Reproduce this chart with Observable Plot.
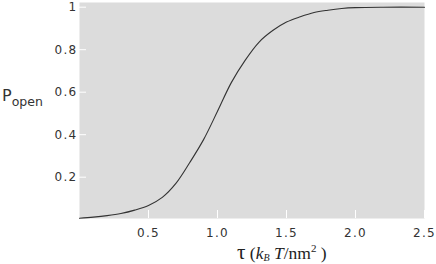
<!DOCTYPE html>
<html>
<head>
<meta charset="utf-8">
<script src="https://cdn.jsdelivr.net/npm/d3@7"></script>
<script src="https://cdn.jsdelivr.net/npm/@observablehq/plot@0.6"></script>
<style>
  html, body { margin: 0; padding: 0; background: #fff; }
  #chart svg { display: block; }
</style>
</head>
<body>
<div id="chart"></div>
<script>
const tau   = [0, 0.1, 0.2, 0.3, 0.4, 0.5, 0.6, 0.7, 0.8, 0.9, 1.0, 1.1, 1.2, 1.3, 1.4, 1.5, 1.6, 1.7, 1.8, 1.9, 2.0, 2.2, 2.5];
const pOpen = [0.007, 0.012, 0.019, 0.029, 0.045, 0.067, 0.105, 0.172, 0.27, 0.378, 0.51, 0.645, 0.75, 0.835, 0.89, 0.93, 0.955, 0.975, 0.986, 0.994, 0.998, 1.0, 1.0];
const xTicks = [0.5, 1.0, 1.5, 2.0, 2.5];
const xTickLabels = ["0.5", "1.0", "1.5", "2.0", "2.5"];
const yTicks = [0.2, 0.4, 0.6, 0.8, 1];
const yTickLabels = ["0.2", "0.4", "0.6", "0.8", "1"];

const data = tau.map((t, i) => ({tau: t, p: pOpen[i]}));

const chart = Plot.plot({
  width: 436,
  height: 264,
  marginLeft: 79,
  marginRight: 12,
  marginTop: 2,
  marginBottom: 46,
  style: {fontFamily: "DejaVu Sans", fontSize: "12px", letterSpacing: "1.3px", color: "#333", overflow: "visible"},
  x: {domain: [0, 2.5]},
  y: {domain: [0.0056, 1.0221]},
  marks: [
    Plot.frame({fill: "#dcdcdc", stroke: null}),
    Plot.line(data, {x: "tau", y: "p", curve: "catmull-rom", stroke: "#333", strokeWidth: 1.1}),
    Plot.axisX({ticks: xTicks, tickFormat: (d) => xTickLabels[xTicks.indexOf(d)], tickSize: -8, tickPadding: 18, stroke: "white", fill: "#333", label: null}),
    Plot.axisY({ticks: yTicks, tickFormat: (d) => yTickLabels[yTicks.indexOf(d)], tickSize: -7, tickPadding: 9, stroke: "white", fill: "#333", label: null})
  ]
});

document.getElementById("chart").appendChild(chart);

const svg = d3.select(chart);
// y label: P_open
const yl = svg.append("text")
  .attr("x", 2).attr("y", 101)
  .attr("text-anchor", "start")
  .attr("fill", "#333")
  .style("font-family", "DejaVu Sans")
  .style("letter-spacing", "0px");
yl.append("tspan").attr("font-size", 16).text("P");
yl.append("tspan").attr("font-size", 12.5).attr("dy", 5).text("open");

// x label: τ (k_B T/nm²)
const xl = svg.append("text")
  .attr("x", 237).attr("y", 258.5)
  .attr("text-anchor", "start")
  .attr("fill", "#222")
  .style("font-family", "Liberation Serif")
  .style("letter-spacing", "0px")
  .attr("font-size", 17.5);
xl.append("tspan").attr("font-size", 21).text("τ");
xl.append("tspan").text(" (");
xl.append("tspan").attr("font-style", "italic").text("k");
xl.append("tspan").attr("font-style", "italic").attr("font-size", 10).attr("dy", 2).text("B");
xl.append("tspan").attr("font-style", "italic").attr("dy", -2).text(" T");
xl.append("tspan").text("/nm");
xl.append("tspan").attr("font-size", 11).attr("dy", -7).text("2");
xl.append("tspan").attr("dy", 7).text(" )");
</script>
</body>
</html>
